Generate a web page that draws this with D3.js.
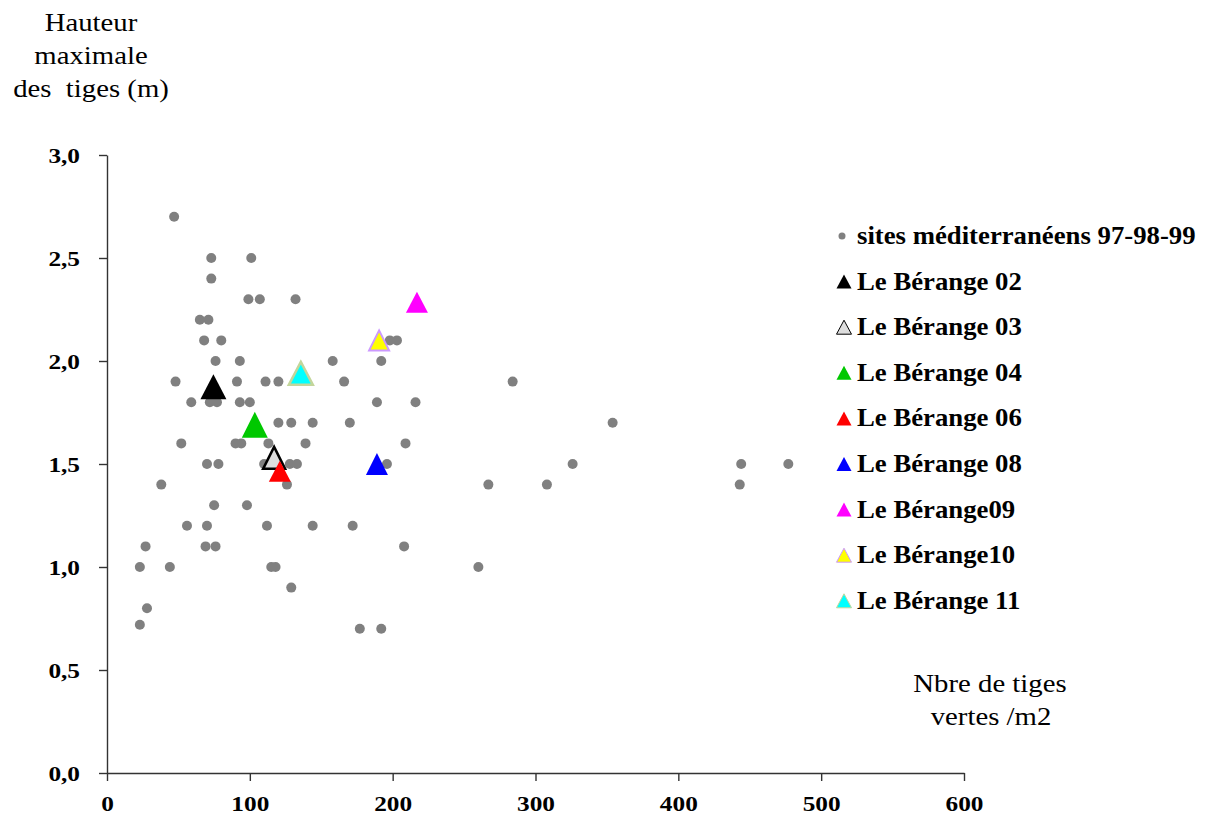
<!DOCTYPE html>
<html>
<head>
<meta charset="utf-8">
<script src="https://cdn.jsdelivr.net/npm/d3@7"></script>
<style>
  body { margin: 0; background: #fff; }
  svg { display: block; }
  text { font-family: "Liberation Serif", "Times New Roman", serif; }
</style>
</head>
<body>
<div id="chart"></div>
<script>
// gray dots: sites mediterraneens 97-98-99 (x = stems/m2, y = height m)
var siteX = [47, 73, 101, 73, 99, 107, 132, 65, 71, 68, 80, 198, 203,
  76, 93, 158, 192, 48, 91, 111, 120, 166, 284,
  59, 72, 77, 93, 100, 189, 216,
  120, 129, 144, 170, 354,
  52, 90, 94, 113, 139, 209,
  70, 78, 110, 128, 133, 196, 326, 444, 477,
  38, 126, 267, 308, 443,
  75, 98,
  56, 70, 112, 144, 172,
  27, 69, 76, 208,
  23, 44, 115, 118, 260,
  129, 28, 23, 177, 192];
var siteY = [2.7, 2.5, 2.5, 2.4, 2.3, 2.3, 2.3, 2.2, 2.2, 2.1, 2.1, 2.1, 2.1,
  2.0, 2.0, 2.0, 2.0, 1.9, 1.9, 1.9, 1.9, 1.9, 1.9,
  1.8, 1.8, 1.8, 1.8, 1.8, 1.8, 1.8,
  1.7, 1.7, 1.7, 1.7, 1.7,
  1.6, 1.6, 1.6, 1.6, 1.6, 1.6,
  1.5, 1.5, 1.5, 1.5, 1.5, 1.5, 1.5, 1.5, 1.5,
  1.4, 1.4, 1.4, 1.4, 1.4,
  1.3, 1.3,
  1.2, 1.2, 1.2, 1.2, 1.2,
  1.1, 1.1, 1.1, 1.1,
  1.0, 1.0, 1.0, 1.0, 1.0,
  0.9, 0.8, 0.72, 0.7, 0.7];

// Le Berange years
var berNames = ["Le Bérange 02", "Le Bérange 03", "Le Bérange 04", "Le Bérange 06",
  "Le Bérange 08", "Le Bérange09", "Le Bérange10", "Le Bérange 11"];
var berX = [74.5, 117, 103.5, 121, 189, 217, 190.5, 135.7];
var berY = [1.875, 1.53, 1.69, 1.465, 1.50, 2.285, 2.10, 1.94];
var berFill = ["#000000", "#dddddd", "#00c800", "#ff0000", "#0000ff", "#ff00ff", "#ffff00", "#00ffff"];
var berStroke = ["#000000", "#000000", "#00c800", "#ff0000", "#0000ff", "#ff00ff", "#cc99ff", "#c3d69b"];

var xTicks = [0, 100, 200, 300, 400, 500, 600];
var yTicks = [0, 0.5, 1.0, 1.5, 2.0, 2.5, 3.0];

var width = 1208, height = 817;

var svg = d3.select("#chart").append("svg")
    .attr("width", width)
    .attr("height", height);

var x = d3.scaleLinear().domain([0, 600]).range([107, 964]);
var y = d3.scaleLinear().domain([0, 3]).range([773, 155]);

// stretched text, the original picture is a bit wider than tall
function label(txt, px, py, size, weight, anchor, sx) {
  return svg.append("text")
    .attr("transform", "translate(" + px + "," + py + ") scale(" + sx + ",1)")
    .attr("text-anchor", anchor)
    .style("font-size", size + "px")
    .style("font-weight", weight)
    .style("white-space", "pre")
    .attr("fill", "#000")
    .text(txt);
}

// axes
var yAxis = svg.append("g")
    .attr("transform", "translate(" + x(0) + ",0)")
    .call(d3.axisLeft(y).tickValues(yTicks).tickSize(8).tickSizeOuter(0)
      .tickFormat(function(d) { return d3.format(".1f")(d).replace(".", ","); }));

var xAxis = svg.append("g")
    .attr("transform", "translate(0," + y(0) + ")")
    .call(d3.axisBottom(x).tickValues(xTicks).tickSize(8).tickSizeOuter(0)
      .tickFormat(d3.format("d")));

yAxis.attr("font-family", null);
xAxis.attr("font-family", null);

svg.selectAll(".domain, .tick line")
    .attr("stroke", "#333")
    .attr("stroke-width", 1.4);

yAxis.selectAll("text")
    .attr("x", -27 / 1.15)
    .attr("dy", "0.34em")
    .attr("transform", "scale(1.15,1)")
    .style("font-family", "'Liberation Serif', serif")
    .style("font-size", "22px")
    .style("font-weight", "bold")
    .attr("fill", "#000");

xAxis.selectAll("text")
    .attr("y", 38)
    .attr("dy", "0")
    .attr("transform", "scale(1.15,1)")
    .style("font-family", "'Liberation Serif', serif")
    .style("font-size", "22px")
    .style("font-weight", "bold")
    .attr("fill", "#000");

svg.selectAll(".domain").attr("fill", "none");

// titles
label("Hauteur", 91, 31, 25, "normal", "middle", 1.15);
label("maximale", 91, 64, 25, "normal", "middle", 1.15);
label("des  tiges (m)", 91, 97, 25, "normal", "middle", 1.15);
label("Nbre de tiges", 990, 692, 25, "normal", "middle", 1.15);
label("vertes /m2", 991, 725, 25, "normal", "middle", 1.15);

// triangle path centered on its bounding box
function tri(w, h) {
  return "M0," + (-h / 2) + "L" + (w / 2) + "," + (h / 2) + "L" + (-w / 2) + "," + (h / 2) + "Z";
}
var berW = [26, 22, 26, 22, 22, 22, 20, 24];
var berH = [25, 22, 26, 21, 22, 21, 20, 23];
var berSW = [0, 2.5, 0, 0, 0, 0, 2, 2.5];

// gray dots
svg.append("g").selectAll("circle")
    .data(d3.range(siteX.length))
    .enter().append("circle")
      .attr("cx", function(i) { return x(siteX[i]); })
      .attr("cy", function(i) { return y(siteY[i]); })
      .attr("r", 5)
      .attr("fill", "#808080");

// triangles
svg.append("g").selectAll("path")
    .data(d3.range(berNames.length))
    .enter().append("path")
      .attr("transform", function(i) { return "translate(" + x(berX[i]) + "," + y(berY[i]) + ")"; })
      .attr("d", function(i) { return tri(berW[i], berH[i]); })
      .attr("fill", function(i) { return berFill[i]; })
      .attr("stroke", function(i) { return berStroke[i]; })
      .attr("stroke-width", function(i) { return berSW[i]; })
      .attr("stroke-linejoin", "miter");

// legend
var legY0 = 236, legStep = 45.6;
svg.append("circle")
    .attr("cx", 842).attr("cy", legY0).attr("r", 3.5).attr("fill", "#808080");
label("sites méditerranéens 97-98-99", 857, legY0 + 8, 25, "bold", "start", 1.07);

var leg = svg.append("g").selectAll("g")
    .data(d3.range(berNames.length))
    .enter().append("g")
      .attr("transform", function(i) { return "translate(844," + (legY0 + (i + 1) * legStep) + ")"; });

leg.append("path")
    .attr("d", tri(15, 14))
    .attr("fill", function(i) { return berFill[i]; })
    .attr("stroke", function(i) { return berStroke[i]; })
    .attr("stroke-width", function(i) { return berSW[i] ? 1 : 0; });

berNames.forEach(function(n, i) {
  label(n, 857, legY0 + (i + 1) * legStep + 8, 25, "bold", "start", 1.07);
});
</script>
</body>
</html>
